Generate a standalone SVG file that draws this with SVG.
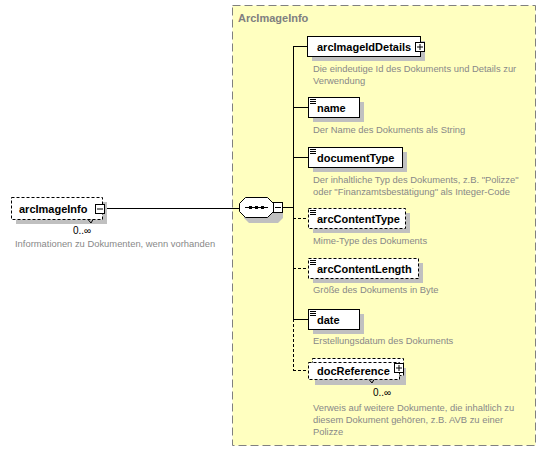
<svg xmlns="http://www.w3.org/2000/svg" width="546" height="451" viewBox="0 0 546 451">
<style>
.el{fill:#fff;stroke:#000;stroke-width:1}
.opt{stroke-dasharray:3,2}
.sh{fill:#c0c0c0}
.nm{font-family:"Liberation Sans",Arial,sans-serif;font-weight:bold;font-size:11px;fill:#000}
.ds{font-family:"Liberation Sans",Arial,sans-serif;font-size:9.4px;fill:#888}
.oc{font-family:"Liberation Sans",Arial,sans-serif;font-size:10px;fill:#000}
.ln{stroke:#000;stroke-width:1;fill:none}
.dl{stroke:#000;stroke-width:1;fill:none;stroke-dasharray:3,2}
.ic{stroke:#000;stroke-width:1}
</style>
<rect width="546" height="451" fill="#fff"/>
<g id="ArcImageInfo">
<rect x="232.5" y="5.5" width="303" height="440" fill="#ffffc0" stroke="#808080" stroke-dasharray="8,4"/>
<text x="238" y="22" font-family="Liberation Sans,Arial,sans-serif" font-weight="bold" font-size="11" fill="#808080">ArcImageInfo</text>
</g>
<g id="connectors">
<line class="ln" x1="105" y1="208.5" x2="240" y2="208.5"/>
<line class="ln" x1="283" y1="207.5" x2="293" y2="207.5"/>
<line class="ln" x1="293.5" y1="46" x2="293.5" y2="319"/>
<line class="dl" x1="293.5" y1="319" x2="293.5" y2="370"/>
<line class="ln" x1="293" y1="46.5" x2="308" y2="46.5"/>
<line class="ln" x1="293" y1="107.5" x2="308" y2="107.5"/>
<line class="ln" x1="293" y1="157.5" x2="308" y2="157.5"/>
<line class="dl" x1="293" y1="218.5" x2="308" y2="218.5"/>
<line class="dl" x1="293" y1="268.5" x2="308" y2="268.5"/>
<line class="ln" x1="293" y1="319.5" x2="308" y2="319.5"/>
<line class="dl" x1="293" y1="370.5" x2="308" y2="370.5"/>
</g>
<g id="arcImageInfo">
<rect class="sh" x="16" y="202" width="91" height="22"/>
<rect class="el opt" x="11.5" y="197.5" width="91" height="22"/>
<text class="nm" x="19" y="212.5">arcImageInfo</text>
<rect x="95.5" y="204.5" width="9" height="9" fill="#fff" stroke="#000"/>
<line class="ic" x1="97" y1="209" x2="103" y2="209"/>
<path class="ic" d="M88,219.5 L91,223 L93,219.5" fill="none" stroke-width="0.8"/>
<text class="oc" x="73" y="234">0..∞</text>
<text class="ds" x="15" y="247">Informationen zu Dokumenten, wenn vorhanden</text>
</g>
<g id="sequence">
<path d="M249,202 L278,202 L283,207 L283,218 L278,223 L249,223 L244,218 L244,207 Z" fill="#c0c0c0"/>
<path d="M245.5,197.5 L267.5,197.5 L273.5,203.5 L273.5,211.5 L267.5,217.5 L245.5,217.5 L239.5,211.5 L239.5,203.5 Z" fill="#fff" stroke="#000"/>
<line class="ic" x1="245" y1="207.5" x2="268" y2="207.5"/>
<rect x="249" y="206" width="3" height="3" fill="#000"/>
<rect x="255" y="206" width="3" height="3" fill="#000"/>
<rect x="261" y="206" width="3" height="3" fill="#000"/>
<rect x="273.5" y="202.5" width="9" height="10" fill="#fff" stroke="#000"/>
<line class="ic" x1="275" y1="207.5" x2="281" y2="207.5"/>
</g>
<g id="arcImageIdDetails">
<rect class="sh" x="312" y="41" width="113" height="20"/>
<rect class="el" x="307.5" y="36.5" width="113" height="20"/>
<text class="nm" x="317" y="51">arcImageIdDetails</text>
<rect x="415.5" y="42.5" width="9" height="9" fill="#fff" stroke="#000"/>
<line class="ic" x1="417" y1="47" x2="423" y2="47"/>
<line class="ic" x1="420" y1="44" x2="420" y2="50"/>
<text class="ds" x="313" y="72">Die eindeutige Id des Dokuments und Details zur</text>
<text class="ds" x="313" y="84">Verwendung</text>
</g>
<g id="name">
<rect class="sh" x="313" y="102" width="51" height="20"/>
<rect class="el" x="308.5" y="97.5" width="51" height="20"/>
<path class="ic" d="M310,99.5h6M310,101.5h6M310,103.5h6"/>
<text class="nm" x="317" y="112">name</text>
<text class="ds" x="313" y="133">Der Name des Dokuments als String</text>
</g>
<g id="documentType">
<rect class="sh" x="313" y="152" width="94" height="20"/>
<rect class="el" x="308.5" y="147.5" width="94" height="20"/>
<path class="ic" d="M310,149.5h6M310,151.5h6M310,153.5h6"/>
<text class="nm" x="317" y="162">documentType</text>
<text class="ds" x="313" y="183">Der inhaltliche Typ des Dokuments, z.B. "Polizze"</text>
<text class="ds" x="313" y="195">oder "Finanzamtsbestätigung" als Integer-Code</text>
</g>
<g id="arcContentType">
<rect class="sh" x="313" y="213" width="97" height="20"/>
<rect class="el opt" x="308.5" y="208.5" width="97" height="20"/>
<path class="ic" d="M310,210.5h6M310,212.5h6M310,214.5h6"/>
<text class="nm" x="317" y="223">arcContentType</text>
<text class="ds" x="313" y="244">Mime-Type des Dokuments</text>
</g>
<g id="arcContentLength">
<rect class="sh" x="313" y="263" width="110" height="20"/>
<rect class="el opt" x="308.5" y="258.5" width="110" height="20"/>
<path class="ic" d="M310,260.5h6M310,262.5h6M310,264.5h6"/>
<text class="nm" x="317" y="273">arcContentLength</text>
<text class="ds" x="313" y="293">Größe des Dokuments in Byte</text>
</g>
<g id="date">
<rect class="sh" x="313" y="314" width="51" height="20"/>
<rect class="el" x="308.5" y="309.5" width="51" height="20"/>
<path class="ic" d="M310,311.5h6M310,313.5h6M310,315.5h6"/>
<text class="nm" x="317" y="324">date</text>
<text class="ds" x="313" y="344">Erstellungsdatum des Dokuments</text>
</g>
<g id="docReference">
<rect class="sh" x="315" y="368" width="91" height="17"/>
<rect class="el opt" x="312.5" y="358.5" width="91" height="17"/>
<rect class="el opt" x="308.5" y="362.5" width="91" height="17"/>
<text class="nm" x="317" y="375">docReference</text>
<rect x="394.5" y="363.5" width="9" height="9" fill="#fff" stroke="#000"/>
<line class="ic" x1="396" y1="368" x2="402" y2="368"/>
<line class="ic" x1="399" y1="365" x2="399" y2="371"/>
<path class="ic" d="M369,379.5 L372,383 L374,379.5" fill="none" stroke-width="0.8"/>
<text class="oc" x="373" y="396">0..∞</text>
<text class="ds" x="313" y="411">Verweis auf weitere Dokumente, die inhaltlich zu</text>
<text class="ds" x="313" y="423">diesem Dokument gehören, z.B. AVB zu einer</text>
<text class="ds" x="313" y="435">Polizze</text>
</g>
</svg>
